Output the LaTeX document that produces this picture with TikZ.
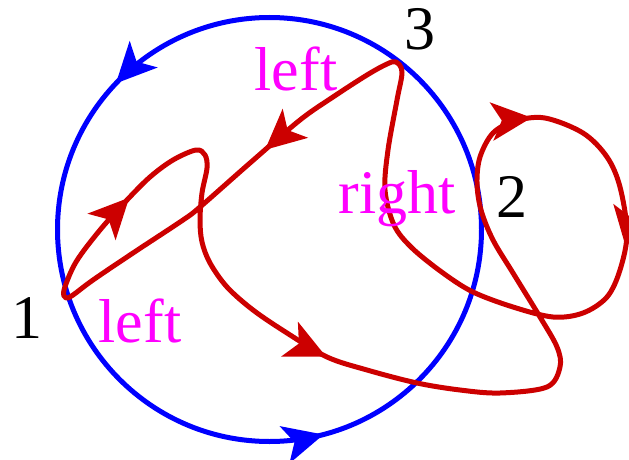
\documentclass[tikz,border=0pt]{standalone}
\usepackage{fontspec}
\setmainfont{Liberation Serif}
\usetikzlibrary{arrows.meta,decorations.markings}
\definecolor{cblue}{RGB}{0,0,255}
\definecolor{cred}{RGB}{204,0,0}
\definecolor{cmag}{RGB}{255,0,255}
\tikzset{
  bighead/.tip={Stealth[length=40pt,width=38pt,inset=10pt]},
  lbl/.style={font=\fontsize{62}{70}\selectfont, inner sep=0pt, anchor=base},
  turnlbl/.style={lbl, text=cmag},
  ptlbl/.style={lbl, text=black},
  bluepath/.style={draw=cblue, line width=5pt,
    postaction={decorate},
    decoration={markings,
      mark=at position 0.379 with {\arrow{bighead}},
      mark=at position 0.791 with {\arrow{bighead}}}},
  redpath/.style={draw=cred, line width=5pt, line join=round,
    postaction={decorate},
    decoration={markings,
      mark=at position 0.040 with {\arrow{bighead}},
      mark=at position 0.210 with {\arrow{bighead}},
      mark=at position 0.474 with {\arrow{bighead}},
      mark=at position 0.561 with {\arrow{bighead}},
      mark=at position 0.862 with {\arrow{bighead}}}}
}
\begin{document}
\begin{tikzpicture}[x=1pt,y=-1pt]
\useasboundingbox (0,0) rectangle (629,460);
\coordinate (ctr) at (269.5,229.5);
% blue circle
\path[bluepath] (ctr) ++(0:212pt) arc[start angle=0,end angle=360,radius=212pt];
% red closed curve
\path[redpath] plot[smooth cycle, tension=0.55] coordinates {
 (64,290) (76,262) (100,230) (127,200) (150,177) (173,160) (196,150)
 (205,155) (207,168) (202,193) (200,220) (202,242) (210,263) (227,287) (253,310)
 (287,333) (327,357) (367,370) (417,383) (460,390) (500,393) (547,387) (560,367)
 (557,347) (540,317) (513,273) (493,240) (481,210) (477,183) (480,157) (493,133)
 (515,121) (545,118) (583,133) (607,157) (620,187) (627,233) (620,270) (607,297)
 (583,313) (553,317) (513,307) (473,292) (443,273) (412,248) (394,225) (385,190)
 (388,150) (397,100) (402,72) (396,62) (387,64) (367,75) (333,97) (300,120)
 (250,163) (200,207) (183,220) (133,253) (93,280) (73,295) (66,298)};
% labels
\node[ptlbl] (n1) at (27.5,338) {1};
\node[ptlbl] (n2) at (512,217) {2};
\node[ptlbl] (n3) at (420,50) {3};
\node[turnlbl] (l1) at (140,342) {left};
\node[turnlbl] (l3) at (296,90) {left};
\node[turnlbl] (r3) at (397,213) {right};
\end{tikzpicture}
\end{document}
